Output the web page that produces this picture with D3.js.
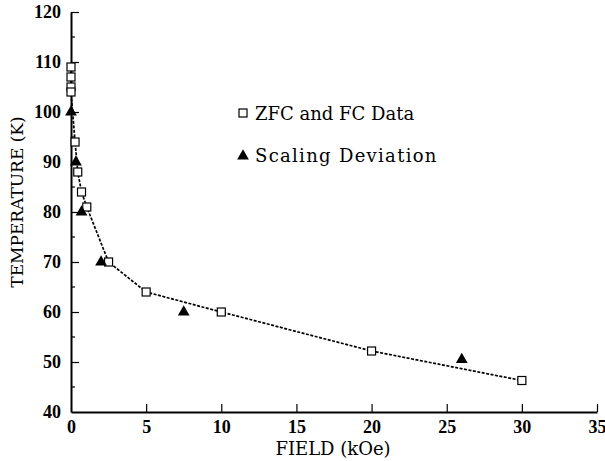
<!DOCTYPE html>
<html lang="en">
<head>
    <meta charset="UTF-8">
    <title>Temperature vs Field</title>
    <style>
        body { margin: 0; background: #fff; }
        svg { display: block; }
        .tick text { font-family: "Liberation Serif", serif; font-weight: bold; font-size: 18px; fill: #000; }
        .title { font-family: "DejaVu Serif", serif; fill: #000; }
        .legend { font-family: "DejaVu Serif", serif; font-size: 18px; fill: #000; }
    </style>
</head>
<body>
    <svg id="chart" width="605" height="461"></svg>

    <script src="https://d3js.org/d3.v7.min.js"></script>
    <script>
        // ZFC and FC data (squares), connected by dashed line
        const zfcField = [0, 0, 0, 0, 0.27, 0.45, 0.7, 1.05, 2.5, 5, 10, 20, 30];
        const zfcTemp  = [109, 107, 105, 104, 94, 88, 84, 81, 70, 64, 60, 52.2, 46.3];

        // Scaling deviation (triangles)
        const devField = [0, 0.33, 0.7, 2.0, 7.5, 26];
        const devTemp  = [100, 90, 80, 70, 60, 50.5];

        const xTicks = [0, 5, 10, 15, 20, 25, 30, 35];
        const yTicks = [40, 50, 60, 70, 80, 90, 100, 110, 120];
        const yMinor = [45, 55, 65, 75, 85, 95, 105, 115];

        const svg = d3.select('#chart');
        const mLeft = 71, mRight = 597, mTop = 12, mBottom = 412;

        const x = d3.scaleLinear().domain([0, 35]).range([mLeft, mRight]);
        const y = d3.scaleLinear().domain([40, 120]).range([mBottom, mTop]);

        // axes, ticks pointing inward
        const xAxis = svg.append('g')
            .attr('transform', 'translate(0,' + mBottom + ')')
            .call(d3.axisTop(x).tickValues(xTicks).tickSize(8).tickSizeOuter(0));
        xAxis.select('.domain').attr('stroke', '#000').attr('stroke-width', 2);
        xAxis.selectAll('.tick line').attr('stroke-width', 1.2);
        xAxis.selectAll('.tick text').attr('y', 21).attr('dy', 0);
        xAxis.selectAll('.tick').filter(d => d === 0).select('line').remove();

        const yAxis = svg.append('g')
            .attr('transform', 'translate(' + mLeft + ',0)')
            .call(d3.axisRight(y).tickValues(yTicks).tickSize(8).tickSizeOuter(0));
        yAxis.select('.domain').attr('stroke', '#000').attr('stroke-width', 2);
        yAxis.selectAll('.tick line').attr('stroke-width', 1.2);
        yAxis.selectAll('.tick text').attr('x', -10).attr('text-anchor', 'end');
        yAxis.selectAll('.tick').filter(d => d === 40).select('line').remove();

        svg.append('g').selectAll('line')
            .data(yMinor)
            .enter().append('line')
            .attr('x1', mLeft).attr('x2', mLeft + 4)
            .attr('y1', d => y(d)).attr('y2', d => y(d))
            .attr('stroke', '#000').attr('stroke-width', 1.2);

        // axis titles
        svg.append('text')
            .attr('class', 'title')
            .attr('x', 333).attr('y', 455)
            .attr('text-anchor', 'middle')
            .style('font-size', '18px')
            .text('FIELD (kOe)');

        svg.append('text')
            .attr('class', 'title')
            .attr('transform', 'translate(23,202) rotate(-90)')
            .attr('text-anchor', 'middle')
            .style('font-size', '17px')
            .text('TEMPERATURE (K)');

        // dashed line through squares
        const zfc = zfcField.map((f, i) => [f, zfcTemp[i]]);
        const line = d3.line().x(d => x(d[0])).y(d => y(d[1]));
        svg.append('path')
            .datum(zfc)
            .attr('d', line)
            .attr('fill', 'none')
            .attr('stroke', '#000')
            .attr('stroke-width', 1.7)
            .attr('stroke-dasharray', '3,1.5');

        // squares
        svg.append('g').selectAll('rect')
            .data(zfc)
            .enter().append('rect')
            .attr('x', d => x(d[0]) - 4)
            .attr('y', d => y(d[1]) - 4)
            .attr('width', 8).attr('height', 8)
            .attr('fill', '#fff')
            .attr('stroke', '#000')
            .attr('stroke-width', 1.2);

        // triangles
        const tri = d3.symbol().type(d3.symbolTriangle).size(60);
        svg.append('g').selectAll('path')
            .data(devField.map((f, i) => [f, devTemp[i]]))
            .enter().append('path')
            .attr('d', tri)
            .attr('transform', d => 'translate(' + x(d[0]) + ',' + y(d[1]) + ')')
            .attr('fill', '#000');

        // legend
        svg.append('rect')
            .attr('x', 239).attr('y', 109)
            .attr('width', 8).attr('height', 8)
            .attr('fill', '#fff').attr('stroke', '#000').attr('stroke-width', 1.2);
        svg.append('text')
            .attr('class', 'legend')
            .attr('x', 255).attr('y', 120)
            .text('ZFC and FC Data');

        svg.append('path')
            .attr('d', tri)
            .attr('transform', 'translate(243,156)')
            .attr('fill', '#000');
        svg.append('text')
            .attr('class', 'legend')
            .attr('x', 255).attr('y', 162)
            .style('letter-spacing', '1.3px')
            .text('Scaling Deviation');
    </script>
</body>
</html>
